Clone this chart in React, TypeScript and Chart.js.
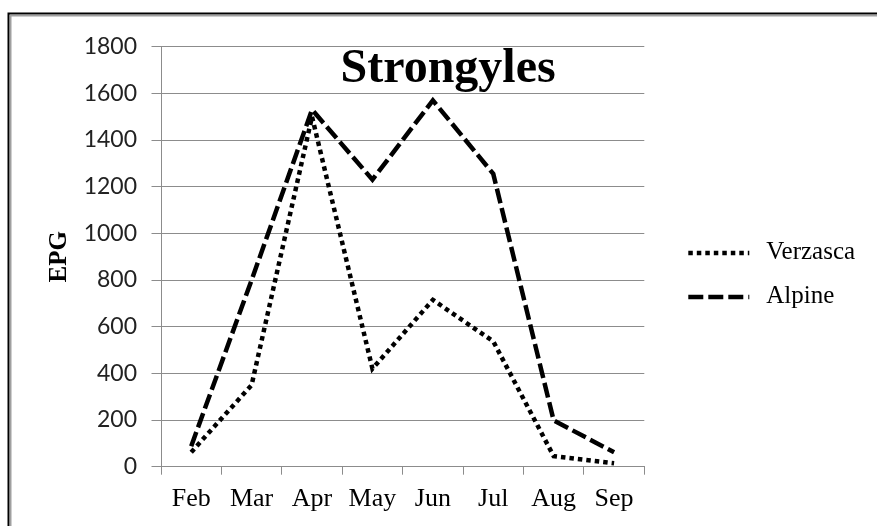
import React, { useEffect, useRef } from "react";
import { Chart, registerables } from "chart.js";

Chart.register(...registerables);

const months = ["Feb", "Mar", "Apr", "May", "Jun", "Jul", "Aug", "Sep"];
const verzasca = [62, 350, 1500, 420, 715, 537, 45, 15];
const alpine = [88, 800, 1530, 1230, 1570, 1255, 198, 62];
const seriesNames = ["Verzasca", "Alpine"];
const chartTitle = "Strongyles";
const yTitle = "EPG";

const DOTTED = [4.5, 4];
const DASHED = [15, 5];
const SERIF = "'Liberation Serif', 'Times New Roman', serif";

const overlayPlugin = {
  id: "overlay",
  beforeDraw(chart: any) {
    const ctx = chart.ctx;
    ctx.save();
    ctx.fillStyle = "#ffffff";
    ctx.fillRect(0, 0, chart.width, chart.height);
    ctx.strokeStyle = "#000";
    ctx.lineWidth = 2;
    ctx.beginPath();
    ctx.moveTo(8.5, chart.height);
    ctx.lineTo(8.5, 13.5);
    ctx.lineTo(chart.width, 13.5);
    ctx.stroke();
    ctx.strokeStyle = "#a0a0a0";
    ctx.lineWidth = 1.5;
    ctx.beginPath();
    ctx.moveTo(10.75, chart.height);
    ctx.lineTo(10.75, 15.75);
    ctx.lineTo(chart.width, 15.75);
    ctx.stroke();
    ctx.restore();
  },
  afterDraw(chart: any) {
    const ctx = chart.ctx;
    const area = chart.chartArea;
    ctx.save();
    ctx.fillStyle = "#000";
    ctx.font = `bold 48px ${SERIF}`;
    ctx.textAlign = "center";
    ctx.textBaseline = "alphabetic";
    ctx.fillText(chartTitle, area.left + (area.right - area.left) * 0.594, area.top + 35);
    ctx.save();
    ctx.translate(area.left - 101, (area.top + area.bottom) / 2);
    ctx.rotate(-Math.PI / 2);
    ctx.font = `bold 25px ${SERIF}`;
    ctx.textBaseline = "middle";
    ctx.fillText(yTitle, 0, 0);
    ctx.restore();
    const dashes = [DOTTED, DASHED];
    const ys = [253, 297];
    ctx.textAlign = "left";
    ctx.textBaseline = "middle";
    ctx.font = `25px ${SERIF}`;
    seriesNames.forEach((name, i) => {
      ctx.strokeStyle = "#000";
      ctx.lineWidth = 4.5;
      ctx.lineCap = "butt";
      ctx.setLineDash(dashes[i]);
      ctx.beginPath();
      ctx.moveTo(area.right + 44, ys[i]);
      ctx.lineTo(area.right + 105, ys[i]);
      ctx.stroke();
      ctx.setLineDash([]);
      ctx.fillText(name, area.right + 122, ys[i] - 1);
    });
    ctx.restore();
  },
};

export default function App() {
  const ref = useRef<HTMLCanvasElement | null>(null);
  useEffect(() => {
    if (!ref.current) return;
    const chart = new Chart(ref.current, {
      type: "line",
      data: {
        labels: months,
        datasets: [
          {
            label: seriesNames[0],
            data: verzasca,
            borderColor: "#000",
            borderWidth: 4.5,
            borderDash: DOTTED,
            pointRadius: 0,
            tension: 0,
            fill: false,
          },
          {
            label: seriesNames[1],
            data: alpine,
            borderColor: "#000",
            borderWidth: 4.5,
            borderDash: DASHED,
            pointRadius: 0,
            tension: 0,
            fill: false,
          },
        ],
      },
      options: {
        responsive: false,
        animation: false,
        layout: { padding: { left: 0, top: 46.7, right: 232.7, bottom: 0 } },
        plugins: { legend: { display: false }, title: { display: false }, tooltip: { enabled: false } },
        scales: {
          x: {
            offset: true,
            afterFit: (s: any) => {
              s.height = 59.3;
            },
            grid: { offset: true, drawOnChartArea: false, tickLength: 8, color: "#8c8c8c", lineWidth: 1 },
            border: { color: "#8c8c8c", width: 1 },
            ticks: { font: { family: SERIF, size: 26 }, color: "#000", padding: 9, maxRotation: 0, autoSkip: false },
          },
          y: {
            min: 0,
            max: 1800,
            afterFit: (s: any) => {
              s.width = 161;
            },
            grid: { tickLength: 9.5, color: "#8c8c8c", lineWidth: 1 },
            border: { color: "#8c8c8c", width: 1 },
            ticks: {
              stepSize: 200,
              font: { family: "Lato, 'Open Sans', sans-serif", size: 23 },
              color: "#222",
              padding: 14.5,
              callback: (v: any) => String(v),
            },
          },
        },
      },
      plugins: [overlayPlugin],
    });
    return () => chart.destroy();
  }, []);
  return (
    <div style={{ position: "absolute", left: 0, top: 0, width: 877, height: 526 }}>
      <canvas ref={ref} width={877} height={526} style={{ display: "block" }} />
    </div>
  );
}
